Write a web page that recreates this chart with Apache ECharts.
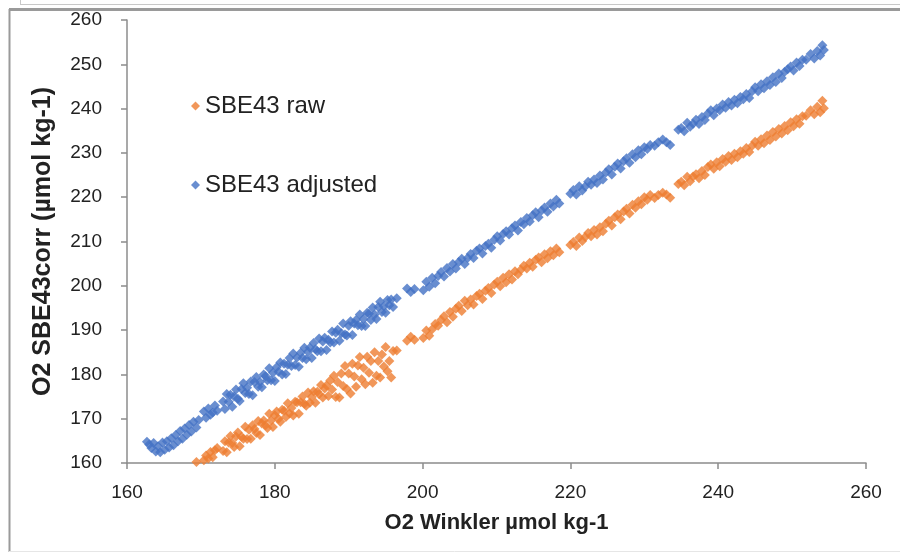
<!DOCTYPE html>
<html>
<head>
<meta charset="utf-8">
<script src="https://cdn.jsdelivr.net/npm/echarts@6/dist/echarts.min.js"></script>
<style>html,body{margin:0;padding:0;background:#fff;}#c{width:900px;height:555px;}</style>
</head>
<body>
<div id="c"></div>
<script>
const seriesNames = ["SBE43 raw", "SBE43 adjusted"];
const xTicks = [160, 180, 200, 220, 240, 260];
const yTicks = [160, 170, 180, 190, 200, 210, 220, 230, 240, 250, 260];

const winkler = [
162.7,163.0,163.3,163.6,163.9,164.2,164.5,164.8,165.1,165.4,165.7,166.0,166.3,166.6,166.9,167.2,167.5,167.8,168.1,168.4,168.7,169.0,169.4,169.7,
170.4,170.7,171.0,171.3,171.6,171.9,172.2,
173.00,173.25,173.50,173.75,174.00,174.25,174.50,174.75,175.00,175.25,175.50,175.75,176.00,176.25,176.50,176.75,177.00,177.25,177.50,177.75,
178.00,178.25,178.50,178.75,179.00,179.25,179.50,179.75,180.00,180.25,180.50,180.75,181.00,181.25,181.50,181.75,182.00,182.25,182.50,182.75,
183.00,183.25,183.50,183.75,184.00,184.25,184.50,184.75,185.00,185.25,185.50,185.75,186.00,186.25,186.50,186.75,187.00,187.25,187.50,187.75,
188.00,188.25,188.50,188.75,189.00,189.25,189.50,189.75,190.00,190.25,190.50,190.75,191.00,191.25,191.50,191.75,192.00,192.25,192.50,192.75,
193.00,193.25,193.50,193.75,194.00,194.25,194.50,194.75,195.00,195.25,195.50,195.75,196.00,
196.5,
197.9,198.4,198.9,200.1,200.5,200.9,201.3,201.7,202.1,202.5,202.9,203.3,203.7,204.1,204.5,204.9,205.3,205.7,206.1,206.5,206.9,207.3,207.7,208.1,208.5,208.9,209.3,209.7,
210.1,210.5,210.9,211.3,211.7,212.1,212.5,212.9,213.3,213.7,214.1,214.5,214.9,215.3,215.7,216.1,216.5,216.9,217.3,217.7,218.1,218.5,
220.0,220.4,220.8,221.2,221.6,222.0,222.4,222.8,223.2,223.6,224.0,224.4,224.8,225.2,225.6,226.0,226.4,226.8,227.2,227.6,228.0,228.4,228.8,229.2,229.6,230.0,230.4,230.8,
231.4,231.9,232.5,233.0,233.5,
234.6,235.0,235.4,235.8,236.2,236.6,237.0,237.4,237.8,238.2,238.6,239.0,239.4,239.8,240.2,240.6,241.0,241.4,241.8,242.2,242.6,243.0,243.4,243.8,244.2,244.6,
245.0,245.4,245.8,246.2,246.6,247.0,247.4,247.8,248.2,248.6,249.0,249.4,249.8,250.2,250.6,251.0,251.4,251.9,252.5,253.0,253.4,253.8,254.1,254.3
];

const raw = [
154.8,154.3,153.5,154.6,152.8,153.9,152.6,154.7,153.2,155.0,153.7,155.7,154.2,156.4,155.1,157.3,155.7,157.9,156.6,158.2,157.3,158.6,160.2,158.9,
160.6,161.7,161.0,162.5,161.3,162.9,163.4,
162.7,164.9,162.4,164.6,166.1,164.5,163.6,166.0,166.9,163.8,165.9,165.5,168.2,165.4,167.5,165.5,168.5,167.7,166.8,169.5,
166.3,168.9,169.6,168.5,167.9,171.1,169.6,168.1,170.8,171.6,170.0,169.3,172.0,171.8,170.4,173.5,171.2,172.4,170.7,173.8,
173.7,171.1,173.7,175.0,173.4,172.9,175.9,173.6,174.9,176.2,173.6,176.1,175.5,177.6,174.8,176.8,177.5,175.1,178.6,176.6,
179.7,174.9,178.3,174.8,180.2,177.4,181.9,176.7,180.2,175.7,182.4,179.5,177.2,182.0,183.9,178.9,181.5,177.8,184.0,180.4,
183.0,178.1,185.0,179.7,183.0,179.3,184.5,181.8,186.2,180.7,183.0,179.3,185.3,
185.4,
187.6,188.5,187.8,188.2,189.9,188.7,190.2,191.4,191.0,192.3,193.1,191.8,194.1,193.0,194.8,195.5,194.3,196.6,195.6,196.9,195.8,197.7,198.2,197.0,198.9,199.5,198.4,200.3,
200.9,199.9,201.8,200.8,202.6,201.4,203.3,202.6,203.6,204.5,203.9,205.2,204.3,205.9,206.4,205.3,207.1,206.2,207.8,206.9,208.4,207.6,
209.2,209.9,209.0,210.9,210.1,211.0,211.9,211.2,212.6,211.6,213.2,212.3,214.0,214.7,213.6,215.5,216.1,215.0,216.8,217.4,216.3,218.3,217.6,219.1,218.4,220.0,219.4,220.5,
219.8,220.5,221.0,220.6,219.9,
223.0,223.5,222.7,224.6,223.6,224.7,225.2,224.3,225.9,225.0,226.8,227.4,226.4,227.9,227.0,228.6,228.0,229.3,228.4,229.8,229.0,230.4,229.8,231.1,230.2,231.6,
232.5,231.6,233.1,232.2,233.9,232.9,234.7,233.7,235.4,234.4,236.1,235.1,236.9,236.0,237.6,236.6,238.3,238.4,239.6,238.7,240.4,239.2,241.8,240.1
];

const adjusted = [
164.8,164.2,163.4,164.5,162.6,163.8,162.4,164.6,163.0,164.9,163.5,165.6,164.0,166.3,164.9,167.2,165.5,167.8,166.4,168.6,167.1,169.3,168.0,169.7,
171.6,170.2,172.3,170.9,171.4,173.0,171.8,
173.9,172.2,175.6,173.8,175.4,172.7,175.0,176.6,174.5,174.0,176.7,178.0,175.8,177.0,175.6,178.4,175.3,178.3,179.4,177.2,
178.3,177.1,180.0,179.6,178.7,181.4,178.7,180.4,178.5,181.6,180.6,182.7,180.0,182.4,180.1,182.2,183.7,181.9,184.7,182.1,
183.8,181.7,184.9,183.7,186.0,183.4,185.1,186.0,183.7,187.1,185.7,185.2,188.1,185.2,187.4,188.3,185.5,187.8,187.2,189.7,
187.2,189.4,190.1,187.6,189.3,191.5,189.0,188.8,191.0,192.0,188.9,191.5,192.3,191.1,193.5,190.9,192.5,190.9,193.9,193.7,
192.3,195.1,193.5,192.5,195.2,196.4,194.1,195.4,193.9,196.8,195.6,196.9,195.2,
197.2,
199.4,198.6,199.3,199.0,200.9,199.8,201.8,200.6,202.2,203.1,202.1,204.0,203.2,204.9,203.9,205.4,206.1,204.9,206.3,207.2,206.3,207.9,208.4,207.3,209.0,209.5,208.6,210.4,
211.2,210.2,211.7,212.3,211.6,213.0,213.6,212.5,214.4,213.9,215.3,214.5,215.9,216.6,215.5,217.0,217.7,216.7,218.6,217.9,219.4,218.6,
220.8,221.6,220.6,222.5,221.5,222.4,223.5,222.8,224.0,223.2,224.9,224.0,225.6,226.3,225.1,226.9,227.6,226.5,228.1,228.8,227.8,229.7,229.0,230.6,229.7,231.3,230.9,231.8,
231.6,232.4,233.0,232.4,231.8,
235.2,235.6,234.9,236.8,235.9,236.6,237.5,236.5,238.1,237.4,238.9,239.6,238.5,240.0,239.6,240.9,240.2,241.5,240.7,242.0,241.2,242.6,242.1,243.3,242.4,243.9,
244.8,243.9,245.5,244.6,246.2,245.3,247.1,246.0,247.9,246.9,248.3,248.9,249.5,248.6,250.4,249.6,251.0,251.0,252.3,251.3,253.0,252.0,254.3,253.2
];

const toPairs = (xs, ys) => xs.map((x, i) => [x, ys[i]]);

const chart = echarts.init(document.getElementById('c'), null, {renderer: 'canvas'});
const axisGrey = '#8c8c8c';
const font = 'Liberation Sans, Arial, sans-serif';
chart.setOption({
  backgroundColor: '#ffffff',
  animation: false,
  grid: {left: 127, right: 34, top: 20, bottom: 92},
  legend: {
    orient: 'vertical', left: 186, top: 89, itemGap: 55,
    icon: 'diamond', itemWidth: 9, itemHeight: 9,
    textStyle: {fontFamily: font, fontSize: 24, color: '#222'},
    data: seriesNames
  },
  xAxis: {
    type: 'value', min: 160, max: 260, interval: 20,
    name: 'O2 Winkler µmol kg-1', nameLocation: 'middle', nameGap: 49,
    nameTextStyle: {fontFamily: font, fontSize: 22, fontWeight: 'bold', color: '#222'},
    axisLine: {show: true, lineStyle: {color: axisGrey, width: 1.5}},
    axisTick: {show: true, inside: false, length: 6, lineStyle: {color: axisGrey, width: 1.5}},
    axisLabel: {margin: 20, fontFamily: font, fontSize: 19, color: '#222',
      formatter: v => xTicks.includes(v) ? String(v) : ''},
    splitLine: {show: false}
  },
  yAxis: {
    type: 'value', min: 160, max: 260, interval: 10,
    name: 'O2 SBE43corr (µmol kg-1)', nameLocation: 'middle', nameGap: 71,
    nameTextStyle: {fontFamily: font, fontSize: 25, fontWeight: 'bold', color: '#222'},
    axisLine: {show: true, lineStyle: {color: axisGrey, width: 1.5}},
    axisTick: {show: true, inside: false, length: 6, lineStyle: {color: axisGrey, width: 1.5}},
    axisLabel: {margin: 25, fontFamily: font, fontSize: 19, color: '#222',
      formatter: v => yTicks.includes(v) ? String(v) : ''},
    splitLine: {show: false}
  },
  series: [
    {name: seriesNames[0], type: 'scatter', symbol: 'diamond', symbolSize: 10, clip: true,
     itemStyle: {color: '#ED7D31'}, data: toPairs(winkler, raw)},
    {name: seriesNames[1], type: 'scatter', symbol: 'diamond', symbolSize: 10, clip: true,
     itemStyle: {color: '#4472C4'}, data: toPairs(winkler, adjusted)}
  ],
  graphic: [
    {type: 'line', shape: {x1: 9, y1: 9.5, x2: 900, y2: 9.5}, style: {stroke: '#9a9a9a', lineWidth: 3}},
    {type: 'line', shape: {x1: 9.5, y1: 9, x2: 9.5, y2: 552}, style: {stroke: '#9a9a9a', lineWidth: 2}},
    {type: 'line', shape: {x1: 9, y1: 551.5, x2: 900, y2: 551.5}, style: {stroke: '#e6e6e6', lineWidth: 1}},
    {type: 'line', shape: {x1: 20, y1: 4.5, x2: 900, y2: 4.5}, style: {stroke: '#c8c8c8', lineWidth: 1}},
    {type: 'line', shape: {x1: 20.5, y1: 0, x2: 20.5, y2: 5}, style: {stroke: '#c8c8c8', lineWidth: 1}}
  ]
});
</script>
</body>
</html>
